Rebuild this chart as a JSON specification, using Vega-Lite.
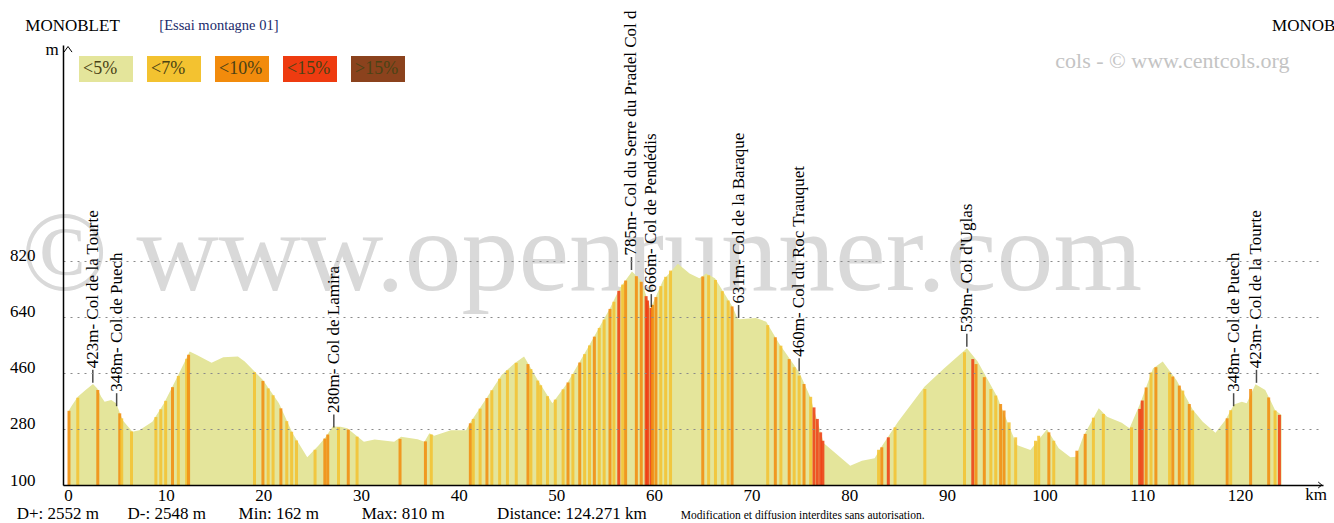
{
  "$schema": "https://vega.github.io/schema/vega-lite/v6.json",
  "width": 1260,
  "height": 440,
  "autosize": {"type": "none"},
  "padding": {"left": 63, "top": 45, "right": 11, "bottom": 38},
  "background": "white",
  "config": {"view": {"stroke": null}, "font": "Liberation Serif", "legend": {"labelFont": "Liberation Serif"}},
  "encoding": {
    "x": {"field": "km", "type": "quantitative",
      "scale": {"domain": [0, 128], "nice": false, "zero": false},
      "axis": {"values": [0, 10, 20, 30, 40, 50, 60, 70, 80, 90, 100, 110, 120], "title": null, "ticks": false, "grid": false,
        "domainColor": "black", "domainWidth": 1.5, "labelFontSize": 17, "labelColor": "black", "labelPadding": 2,
        "labelFont": "Liberation Serif", "labelFlush": false, "zindex": 1}},
    "y": {"field": "m", "type": "quantitative",
      "scale": {"domain": [100, 1511.8], "nice": false, "zero": false},
      "axis": {"values": [100, 280, 460, 640, 820], "title": null, "ticks": false, "grid": true, "gridDash": [2, 5],
        "gridColor": "#8a8a8a", "domainColor": "black", "domainWidth": 1.5, "labelFontSize": 17, "labelPadding": 28,
        "labelBaseline": "alphabetic", "labelFont": "Liberation Serif", "labelColor": "black", "zindex": 1}}
  },
  "layer": [
    {
      "data": {"values": [{"km": 52.6, "m": 725, "label": "© www.openrunner.com"}]},
      "mark": {"type": "text", "fontSize": 114, "font": "Liberation Serif", "color": "#d9d9d9", "align": "center", "baseline": "alphabetic"},
      "encoding": {"text": {"field": "label"}}
    },
    {
      "data": {"values": [
        {"km": 0, "m": 335}, {"km": 0.4, "m": 355}, {"km": 1.0, "m": 383}, {"km": 1.8, "m": 405}, {"km": 2.56, "m": 424},
        {"km": 3.0, "m": 410}, {"km": 3.4, "m": 383}, {"km": 3.75, "m": 367}, {"km": 4.43, "m": 373}, {"km": 4.93, "m": 362},
        {"km": 5.6, "m": 308}, {"km": 6.6, "m": 271}, {"km": 7.3, "m": 276}, {"km": 8.64, "m": 303}, {"km": 9.83, "m": 362},
        {"km": 11.2, "m": 447}, {"km": 12.46, "m": 528}, {"km": 13.2, "m": 517}, {"km": 14.7, "m": 492}, {"km": 15.9, "m": 510},
        {"km": 17.4, "m": 512}, {"km": 18.1, "m": 496}, {"km": 19.96, "m": 437}, {"km": 21.6, "m": 362}, {"km": 23.0, "m": 266},
        {"km": 24.5, "m": 189}, {"km": 25.7, "m": 228}, {"km": 26.4, "m": 255}, {"km": 27.1, "m": 288}, {"km": 27.9, "m": 287},
        {"km": 28.6, "m": 282}, {"km": 30.3, "m": 239}, {"km": 31.4, "m": 246}, {"km": 33.4, "m": 239}, {"km": 34.1, "m": 255},
        {"km": 35.8, "m": 247}, {"km": 36.5, "m": 239}, {"km": 37.0, "m": 266}, {"km": 37.5, "m": 258}, {"km": 39.2, "m": 276},
        {"km": 40.75, "m": 276}, {"km": 41.15, "m": 298}, {"km": 42.95, "m": 383}, {"km": 44.4, "m": 453}, {"km": 45.7, "m": 490},
        {"km": 46.7, "m": 512}, {"km": 48.1, "m": 437}, {"km": 49.6, "m": 362}, {"km": 51.1, "m": 426}, {"km": 53.1, "m": 533},
        {"km": 55.5, "m": 667}, {"km": 56.5, "m": 731}, {"km": 57.75, "m": 785}, {"km": 58.65, "m": 758}, {"km": 59.25, "m": 704},
        {"km": 59.65, "m": 666}, {"km": 60.95, "m": 758}, {"km": 62.45, "m": 810}, {"km": 63.65, "m": 779}, {"km": 64.65, "m": 763},
        {"km": 65.35, "m": 779}, {"km": 66.25, "m": 763}, {"km": 68.05, "m": 672}, {"km": 68.55, "m": 635}, {"km": 68.75, "m": 632},
        {"km": 70.45, "m": 636}, {"km": 71.5, "m": 624}, {"km": 72.8, "m": 555}, {"km": 74.9, "m": 460}, {"km": 76.0, "m": 383},
        {"km": 77.4, "m": 234}, {"km": 78.6, "m": 202}, {"km": 80.1, "m": 162}, {"km": 81.3, "m": 178}, {"km": 82.6, "m": 186},
        {"km": 83.3, "m": 223}, {"km": 85.0, "m": 303}, {"km": 87.7, "m": 415}, {"km": 89.7, "m": 474}, {"km": 92.05, "m": 539},
        {"km": 93.15, "m": 496}, {"km": 95.15, "m": 383}, {"km": 97.15, "m": 228}, {"km": 98.55, "m": 212}, {"km": 100.25, "m": 279},
        {"km": 101.45, "m": 218}, {"km": 102.65, "m": 189}, {"km": 103.2, "m": 191}, {"km": 103.95, "m": 255}, {"km": 105.55, "m": 346},
        {"km": 106.4, "m": 319}, {"km": 107.9, "m": 300}, {"km": 108.7, "m": 282}, {"km": 109.8, "m": 362}, {"km": 111.1, "m": 474},
        {"km": 112.1, "m": 496}, {"km": 113.5, "m": 437}, {"km": 115.2, "m": 341}, {"km": 116.2, "m": 303}, {"km": 117.5, "m": 268},
        {"km": 118.5, "m": 308}, {"km": 119.4, "m": 358}, {"km": 120.2, "m": 367}, {"km": 120.7, "m": 362}, {"km": 121.6, "m": 423},
        {"km": 122.6, "m": 405}, {"km": 123.6, "m": 341}, {"km": 124.27, "m": 325}
      ]},
      "mark": {"type": "area", "color": "#e4e59b"},
      "encoding": {"y2": {"datum": 100}}
    },
    {
      "data": {"values": [
        {"km": 0.1, "m": 338, "grade": "<10%"}, {"km": 1.0, "m": 380, "grade": "<7%"}, {"km": 3.05, "m": 405, "grade": "<10%"},
        {"km": 5.3, "m": 330, "grade": "<10%"}, {"km": 5.5, "m": 314, "grade": "<7%"}, {"km": 6.5, "m": 272, "grade": "<7%"},
        {"km": 9.0, "m": 318, "grade": "<7%"}, {"km": 9.5, "m": 343, "grade": "<7%"}, {"km": 10.0, "m": 370, "grade": "<7%"},
        {"km": 10.7, "m": 414, "grade": "<10%"}, {"km": 11.3, "m": 450, "grade": "<7%"}, {"km": 12.15, "m": 505, "grade": "<7%"},
        {"km": 12.35, "m": 518, "grade": "<10%"}, {"km": 19.1, "m": 462, "grade": "<7%"}, {"km": 19.96, "m": 434, "grade": "<10%"},
        {"km": 20.5, "m": 410, "grade": "<7%"}, {"km": 21.0, "m": 388, "grade": "<7%"}, {"km": 21.8, "m": 346, "grade": "<10%"},
        {"km": 22.4, "m": 305, "grade": "<7%"}, {"km": 22.9, "m": 271, "grade": "<7%"}, {"km": 23.4, "m": 243, "grade": "<7%"},
        {"km": 25.3, "m": 213, "grade": "<7%"}, {"km": 26.3, "m": 249, "grade": "<10%"}, {"km": 26.6, "m": 262, "grade": "<10%"},
        {"km": 27.7, "m": 285, "grade": "<7%"}, {"km": 28.7, "m": 278, "grade": "<10%"}, {"km": 29.6, "m": 255, "grade": "<7%"},
        {"km": 34.0, "m": 248, "grade": "<10%"}, {"km": 36.6, "m": 240, "grade": "<10%"}, {"km": 37.2, "m": 262, "grade": "<7%"},
        {"km": 41.2, "m": 298, "grade": "<10%"}, {"km": 41.5, "m": 312, "grade": "<7%"}, {"km": 42.2, "m": 345, "grade": "<7%"},
        {"km": 42.9, "m": 379, "grade": "<10%"}, {"km": 43.4, "m": 404, "grade": "<7%"}, {"km": 44.2, "m": 441, "grade": "<7%"},
        {"km": 45.0, "m": 468, "grade": "<7%"}, {"km": 45.9, "m": 492, "grade": "<7%"}, {"km": 47.1, "m": 488, "grade": "<10%"},
        {"km": 47.4, "m": 472, "grade": "<7%"}, {"km": 48.1, "m": 435, "grade": "<7%"}, {"km": 48.4, "m": 420, "grade": "<7%"},
        {"km": 49.1, "m": 385, "grade": "<7%"}, {"km": 49.9, "m": 374, "grade": "<7%"}, {"km": 50.7, "m": 407, "grade": "<7%"},
        {"km": 51.2, "m": 429, "grade": "<10%"}, {"km": 51.7, "m": 456, "grade": "<7%"}, {"km": 52.4, "m": 493, "grade": "<10%"},
        {"km": 52.9, "m": 520, "grade": "<7%"}, {"km": 53.4, "m": 548, "grade": "<7%"}, {"km": 53.9, "m": 576, "grade": "<10%"},
        {"km": 54.4, "m": 604, "grade": "<7%"}, {"km": 54.9, "m": 631, "grade": "<7%"}, {"km": 55.5, "m": 665, "grade": "<10%"},
        {"km": 55.9, "m": 688, "grade": "<7%"}, {"km": 56.4, "m": 723, "grade": "<15%"}, {"km": 56.8, "m": 743, "grade": "<7%"},
        {"km": 57.1, "m": 756, "grade": "<10%"}, {"km": 58.2, "m": 770, "grade": "<10%"}, {"km": 58.7, "m": 752, "grade": "<10%"},
        {"km": 59.2, "m": 706, "grade": "<15%"}, {"km": 59.35, "m": 692, "grade": "<15%"}, {"km": 59.7, "m": 668, "grade": "<15%"},
        {"km": 59.85, "m": 678, "grade": "<10%"}, {"km": 60.2, "m": 703, "grade": "<10%"}, {"km": 60.7, "m": 738, "grade": "<7%"},
        {"km": 61.2, "m": 768, "grade": "<7%"}, {"km": 61.7, "m": 788, "grade": "<7%"}, {"km": 65.0, "m": 769, "grade": "<10%"},
        {"km": 65.6, "m": 773, "grade": "<7%"}, {"km": 66.3, "m": 758, "grade": "<7%"}, {"km": 67.0, "m": 722, "grade": "<7%"},
        {"km": 67.6, "m": 692, "grade": "<7%"}, {"km": 68.0, "m": 673, "grade": "<10%"}, {"km": 71.65, "m": 613, "grade": "<7%"},
        {"km": 72.43, "m": 574, "grade": "<10%"}, {"km": 73.0, "m": 547, "grade": "<7%"}, {"km": 73.85, "m": 504, "grade": "<10%"},
        {"km": 74.36, "m": 478, "grade": "<7%"}, {"km": 74.87, "m": 451, "grade": "<7%"}, {"km": 75.37, "m": 424, "grade": "<10%"},
        {"km": 76.05, "m": 383, "grade": "<7%"}, {"km": 76.39, "m": 349, "grade": "<15%"}, {"km": 76.73, "m": 312, "grade": "<15%"},
        {"km": 77.07, "m": 269, "grade": "<15%"}, {"km": 77.3, "m": 242, "grade": "<15%"}, {"km": 83.0, "m": 213, "grade": "<7%"},
        {"km": 83.33, "m": 221, "grade": "<10%"}, {"km": 84.0, "m": 253, "grade": "<15%"}, {"km": 84.69, "m": 285, "grade": "<7%"},
        {"km": 87.74, "m": 408, "grade": "<7%"}, {"km": 91.8, "m": 526, "grade": "<7%"}, {"km": 92.65, "m": 504, "grade": "<15%"},
        {"km": 92.98, "m": 488, "grade": "<10%"}, {"km": 93.83, "m": 446, "grade": "<10%"}, {"km": 94.5, "m": 408, "grade": "<7%"},
        {"km": 95.0, "m": 387, "grade": "<7%"}, {"km": 95.5, "m": 360, "grade": "<10%"}, {"km": 95.85, "m": 339, "grade": "<10%"},
        {"km": 96.37, "m": 301, "grade": "<7%"}, {"km": 97.04, "m": 253, "grade": "<7%"}, {"km": 99.07, "m": 242, "grade": "<7%"},
        {"km": 99.4, "m": 258, "grade": "<7%"}, {"km": 100.44, "m": 269, "grade": "<10%"}, {"km": 100.94, "m": 242, "grade": "<7%"},
        {"km": 103.31, "m": 210, "grade": "<10%"}, {"km": 104.16, "m": 264, "grade": "<10%"}, {"km": 105.0, "m": 316, "grade": "<7%"},
        {"km": 106.02, "m": 328, "grade": "<7%"}, {"km": 108.9, "m": 285, "grade": "<7%"}, {"km": 109.74, "m": 344, "grade": "<15%"},
        {"km": 110.0, "m": 371, "grade": "<15%"}, {"km": 110.4, "m": 413, "grade": "<10%"}, {"km": 110.9, "m": 461, "grade": "<7%"},
        {"km": 111.4, "m": 478, "grade": "<10%"}, {"km": 112.8, "m": 461, "grade": "<7%"}, {"km": 113.13, "m": 448, "grade": "<10%"},
        {"km": 113.8, "m": 419, "grade": "<10%"}, {"km": 114.15, "m": 403, "grade": "<7%"}, {"km": 114.82, "m": 360, "grade": "<10%"},
        {"km": 115.16, "m": 339, "grade": "<7%"}, {"km": 118.7, "m": 314, "grade": "<10%"}, {"km": 119.06, "m": 340, "grade": "<7%"},
        {"km": 121.1, "m": 408, "grade": "<10%"}, {"km": 122.95, "m": 381, "grade": "<10%"}, {"km": 123.6, "m": 339, "grade": "<7%"},
        {"km": 124.05, "m": 325, "grade": "<15%"}
      ]},
      "mark": {"type": "bar", "width": 3, "opacity": 0.85},
      "encoding": {
        "y2": {"datum": 100},
        "color": {"field": "grade", "type": "nominal",
          "scale": {"domain": ["<5%", "<7%", "<10%", "<15%", ">15%"], "range": ["#e4e59b", "#f3c230", "#f28b0c", "#ee3b10", "#8b421d"]},
          "legend": {"title": null, "orient": "none", "legendX": 16, "legendY": -3, "direction": "horizontal",
            "symbolType": "M-1,-0.48H1V0.48H-1Z", "symbolSize": 2916, "symbolStrokeWidth": 0, "symbolOpacity": 1,
            "labelOffset": -50, "labelFontSize": 18, "labelFont": "Liberation Serif", "columnPadding": 14, "padding": 0,
            "labelColor": "#4a4215"}}
      }
    },
    {
      "data": {"values": [
        {"km": 2.54, "m": 423, "name": "423m- Col de la Tourte"},
        {"km": 4.98, "m": 348, "name": "348m- Col de Puech"},
        {"km": 27.22, "m": 280, "name": "280m- Col de Lamira"},
        {"km": 57.7, "m": 785, "name": "785m- Col du Serre du Pradel Col d"},
        {"km": 59.73, "m": 666, "name": "666m- Col de Pendédis"},
        {"km": 68.67, "m": 631, "name": "631m- Col de la Baraque"},
        {"km": 74.87, "m": 460, "name": "460m- Col du Roc Trauquet"},
        {"km": 92.04, "m": 539, "name": "539m- Col d'Uglas"},
        {"km": 119.36, "m": 348, "name": "348m- Col de Puech"},
        {"km": 121.7, "m": 423, "name": "423m- Col de la Tourte"}
      ]},
      "layer": [
        {"mark": {"type": "tick", "orient": "vertical", "size": 13, "thickness": 1.5, "color": "black", "yOffset": -8}},
        {"mark": {"type": "text", "angle": 270, "align": "left", "baseline": "middle", "dx": 16, "fontSize": 17, "font": "Liberation Serif", "color": "black"},
          "encoding": {"text": {"field": "name"}}}
      ]
    },
    {
      "data": {"values": [
        {"km": -4.37, "m": 1556.7, "label": "MONOBLET"},
        {"km": 123.3, "m": 1556.7, "label": "MONOBLET"},
        {"km": -2.3, "m": 1479.7, "label": "m"},
        {"km": 126.7, "m": 51.9, "label": "km"},
        {"km": -5.26, "m": -9, "label": "D+: 2552 m"},
        {"km": 6.1, "m": -9, "label": "D-: 2548 m"},
        {"km": 17.47, "m": -9, "label": "Min: 162 m"},
        {"km": 30.07, "m": -9, "label": "Max: 810 m"},
        {"km": 43.94, "m": -9, "label": "Distance: 124.271 km"}
      ]},
      "mark": {"type": "text", "align": "left", "baseline": "alphabetic", "fontSize": 17, "font": "Liberation Serif", "color": "black"},
      "encoding": {"text": {"field": "label"}}
    },
    {
      "data": {"values": [{"km": 9.35, "m": 1559.9, "label": "[Essai montagne 01]"}]},
      "mark": {"type": "text", "align": "left", "baseline": "alphabetic", "fontSize": 14.5, "font": "Liberation Serif", "color": "#1b2a6b"},
      "encoding": {"text": {"field": "label"}}
    },
    {
      "data": {"values": [{"km": 62.75, "m": -9, "label": "Modification et diffusion interdites sans autorisation."}]},
      "mark": {"type": "text", "align": "left", "baseline": "alphabetic", "fontSize": 11.5, "font": "Liberation Serif", "color": "black"},
      "encoding": {"text": {"field": "label"}}
    },
    {
      "data": {"values": [{"km": 101.1, "m": 1438, "label": "cols - © www.centcols.org"}]},
      "mark": {"type": "text", "align": "left", "baseline": "alphabetic", "fontSize": 22, "font": "Liberation Serif", "color": "#c4c4c4"},
      "encoding": {"text": {"field": "label"}}
    },
    {
      "data": {"values": [{"km": 0, "m": 1498}]},
      "mark": {"type": "point", "shape": "M-1,0.7L0,-0.7L1,0.7", "size": 64, "filled": false, "stroke": "black", "strokeWidth": 1, "opacity": 1}
    },
    {
      "data": {"values": [{"km": 128, "m": 100}]},
      "mark": {"type": "point", "shape": "M-0.6,-1L0.6,0L-0.6,1", "size": 36, "filled": false, "stroke": "black", "strokeWidth": 1, "opacity": 1, "xOffset": 2}
    }
  ]
}
